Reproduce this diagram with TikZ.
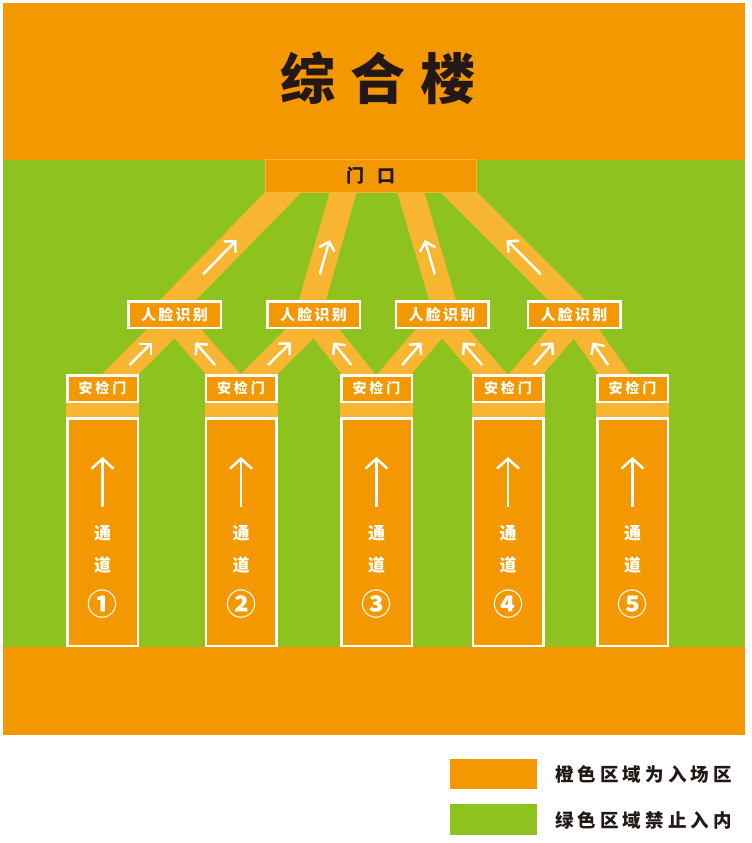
\documentclass[tikz,border=0pt]{standalone}
\usepackage{fontspec}
\newfontfamily\cjk{Noto Sans CJK SC}
\usetikzlibrary{calc,arrows.meta}

\definecolor{zoneorange}{RGB}{243,152,0}
\definecolor{lanelight}{RGB}{248,181,50}
\definecolor{zonegreen}{RGB}{142,194,31}
\definecolor{inkdark}{RGB}{35,24,21}

\pgfdeclarelayer{bg}
\pgfsetlayers{bg,main}

\tikzset{
  box/.style={draw=white, line width=2.5pt, fill=zoneorange, text=white, inner sep=0pt},
  facebox/.style={box, minimum width=92.5pt, minimum height=26.5pt,
    font={\cjk\bfseries\fontsize{15pt}{15pt}\selectfont\addfontfeatures{LetterSpace=15}}},
  gatebox/.style={box, minimum width=70.5pt, minimum height=26.5pt,
    font={\cjk\bfseries\fontsize{14pt}{14pt}\selectfont\addfontfeatures{LetterSpace=20}}},
  lanebox/.style={box, minimum width=70.5pt, minimum height=227.5pt},
  lanetext/.style={text=white, inner sep=0pt, font={\cjk\bfseries\fontsize{17pt}{17pt}\selectfont}},
  doorbox/.style={draw=lanelight, line width=1pt, fill=zoneorange, text=inkdark, inner sep=0pt,
    minimum width=211pt, minimum height=33pt, font={\cjk\bfseries\fontsize{18pt}{18pt}\selectfont}},
  band/.style={lanelight, line width=26pt, shorten <=-20pt, shorten >=-20pt},
  flow/.style={white, line width=2.5pt, -{Straight Barb[length=8pt,width=16pt]}},
  upflow/.style={white, line width=2.5pt, -{Straight Barb[length=10pt,width=22pt]}},
  legendtext/.style={anchor=west, inner sep=0pt, text=inkdark,
    font={\cjk\bfseries\fontsize{18.5pt}{18.5pt}\selectfont\addfontfeatures{LetterSpace=22}}},
}

\begin{document}
\begin{tikzpicture}[x=1pt, y=-1pt]
  \useasboundingbox (0,0) rectangle (752,843);

  % Zonen
  \begin{pgfonlayer}{bg}
    \fill[white] (0,0) rectangle (752,843);
    \fill[zoneorange] (3,3) rectangle (745,160);
    \fill[zonegreen] (3,160) rectangle (745,647);
    \fill[zoneorange] (3,647) rectangle (745,735);
  \end{pgfonlayer}

  \node[text=inkdark, font={\cjk\bfseries\fontsize{55pt}{55pt}\selectfont\addfontfeatures{LetterSpace=27}}]
    (title) at (378,78) {综合楼};

  \node[doorbox] (door) at (371,176) {门\hspace{14pt}口};

  \foreach \x [count=\k] in {174.5,313.5,442,574}
    \node[facebox] (face\k) at (\x,314.5) {人脸识别};

  % Kanaele
  \foreach \x/\c [count=\n] in {102.5/①,241/②,376.5/③,508/④,632.5/⑤} {
    \node[gatebox] (gate\n) at (\x,388.5) {安检门};
    \node[lanebox] (lane\n) at (\x,532) {};
    \fill[lanelight] (gate\n.south west) rectangle (lane\n.north east);
    \draw[upflow] ($(lane\n.north)+(0,90)$) -- ($(lane\n.north)+(0,40)$);
    \node[lanetext] (tong\n) at ($(lane\n.north)+(0,116)$) {通};
    \node[lanetext] (dao\n) at ($(lane\n.north)+(0,148)$) {道};
    \node[text=white, inner sep=0pt, font={\cjk\bfseries\fontsize{30pt}{30pt}\selectfont}]
      (num\n) at ($(lane\n.north)+(0,187)$) {\c};
  }

  % Wege
  \begin{pgfonlayer}{bg}
    \begin{scope}
      \clip (0,0 |- door.south) rectangle (752,0 |- face1.north);
      \foreach \k/\dx/\ex in {1/-88.5/3.5, 2/-28/-1, 3/40/0.5, 4/88.5/-7.5} {
        \coordinate (top) at ($(door.south)+(\dx,0)$);
        \coordinate (bot) at ($(face\k.north)+(\ex,0)$);
        \draw[band] (bot) -- (top);
        \draw[flow] ($(bot)!.24!(top)$) -- ($(bot)!.56!(top)$);
      }
    \end{scope}
    \begin{scope}
      \clip (0,0 |- face1.south) rectangle (752,0 |- gate1.north);
      \foreach \k [evaluate=\k as \j using int(\k+1)] in {1,...,4} {
        \coordinate (la) at ($(gate\k.north)+(18,0)$);
        \coordinate (lb) at ($(face\k.south)+(-9,0)$);
        \coordinate (ra) at ($(gate\j.north)+(-18,0)$);
        \coordinate (rb) at ($(face\k.south)+(9,0)$);
        \draw[band] (la) -- (lb);
        \draw[band] (ra) -- (rb);
        \draw[flow] ($(la)!.2!(lb)$) -- ($(la)!.7!(lb)$);
        \draw[flow] ($(ra)!.2!(rb)$) -- ($(ra)!.7!(rb)$);
      }
    \end{scope}
  \end{pgfonlayer}

  % Legende
  \fill[zoneorange] (450,759) rectangle (537,789);
  \fill[zonegreen] (450,804) rectangle (537,835);
  \node[legendtext] (legorange) at (555,774) {橙色区域为入场区};
  \node[legendtext] (leggreen) at (555,820) {绿色区域禁止入内};
\end{tikzpicture}
\end{document}
